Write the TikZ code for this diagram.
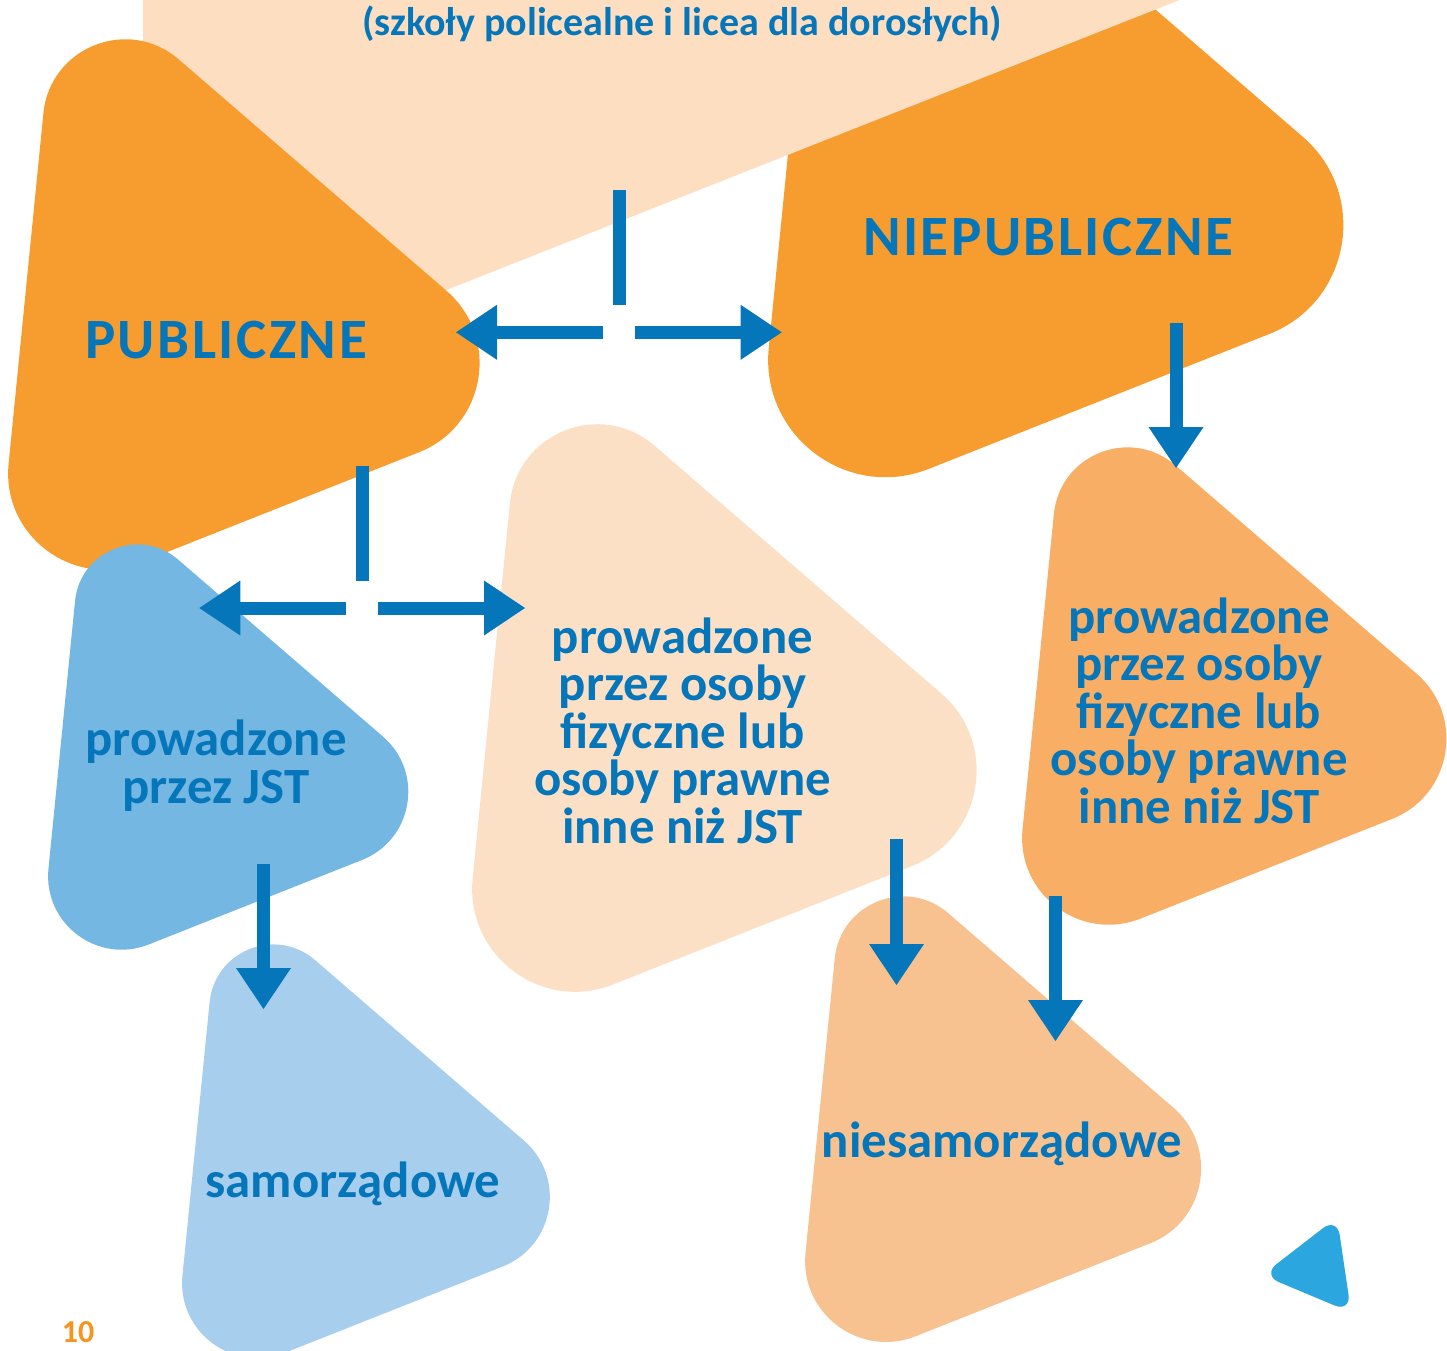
\documentclass[tikz,border=0pt]{standalone}
\usepackage{fontspec}
\setmainfont{Carlito}
\newfontfamily\hdfont[LetterSpace=4.4]{Carlito}
\usetikzlibrary{arrows.meta,calc}
\definecolor{orangeM}{HTML}{F79D2F}
\definecolor{peach}{HTML}{FDDEC0}
\definecolor{peachM}{HTML}{FCE0C5}
\definecolor{orangeL}{HTML}{F8AE64}
\definecolor{orangeP}{HTML}{F8C290}
\definecolor{blueM}{HTML}{74B7E3}
\definecolor{blueL}{HTML}{A8CEEE}
\definecolor{blueS}{HTML}{2BA6DE}
\definecolor{txtblue}{HTML}{0676BA}
\definecolor{pagenum}{HTML}{F7941E}
% rounded triangle with circular fillets: colour, left, top, scale
\newcommand\rtri[4]{%
  \begin{scope}[shift={(#2,#3)}, scale=#4]
  \fill[#1] (35.4,73.2) -- (0.6,423.8)
    .. controls (-6.5,495.5) and (64.8,549.4) .. (131.9,522.8)
    -- (411.1,412.2)
    .. controls (478.0,385.7) and (492.8,297.7) .. (438.4,250.7)
    -- (170.6,19.3)
    .. controls (120.3,-24.1) and (42.0,7.1) .. (35.4,73.2) -- cycle;
  \end{scope}}
\tikzset{
  txt/.style={text=txtblue, inner sep=0pt, align=center},
  hd/.style={txt, font=\hdfont\fontsize{57}{60}\selectfont\bfseries},
  body/.style={txt, font=\fontsize{50.8}{47.5}\selectfont\bfseries},
  topt/.style={txt, font=\fontsize{40}{42}\selectfont\bfseries},
  conn/.style={line width=13pt, draw=txtblue},
  arr/.style={conn, -{Triangle[length=41pt,width=55pt,line width=0pt]}}
}
\begin{document}
\begin{tikzpicture}[x=1pt,y=-1pt]
\useasboundingbox (0,0) rectangle (1447,1350);
\clip (0,0) rectangle (1447,1350);
% shapes
\rtri{orangeM}{768}{-169}{1.22}
\fill[peach] (143,-20) -- (1230,-20) -- (143,410) -- cycle;
\rtri{orangeM}{8}{40}{1}
\rtri{peachM}{472}{425}{1.07}
\rtri{orangeL}{1022}{448}{0.9}
\rtri{blueM}{48}{545}{0.764}
\rtri{blueL}{182}{945}{0.78}
\rtri{orangeP}{805}{897}{0.84}
\fill[blueS, rounded corners=18pt] (1299.6,1246.2) -- (1337.1,1217.2) -- (1351.1,1312.4) -- (1262.2,1275.1) -- cycle;
% texts
\node[topt, anchor=base] (top) at (682,35) {(szkoły policealne i licea dla dorosłych)};
\node[hd, anchor=base] (pub) at (226,358) {PUBLICZNE};
\node[hd, anchor=base] (npub) at (1048,255) {NIEPUBLICZNE};
\node[body, anchor=base] (osm) at (682.5,843) {prowadzone\\przez osoby\\fizyczne lub\\osoby prawne\\inne niż JST};
\node[body, anchor=base] (osr) at (1199,823) {prowadzone\\przez osoby\\fizyczne lub\\osoby prawne\\inne niż JST};
\node[body, anchor=base] (jst) at (216,803) {prowadzone\\przez JST};
\node[body, anchor=base] (sam) at (353,1197) {samorządowe};
\node[body, anchor=base] (nsam) at (1002,1157) {niesamorządowe};
\node[text=pagenum, font=\fontsize{32}{34}\selectfont\bfseries, inner sep=0pt, anchor=base] (pg) at (78,1342) {10};
% connector coordinates
\coordinate (v1a) at (619.5,190); \coordinate (v1b) at (619.5,305);
\coordinate (l1a) at (602.7,332.3); \coordinate (l1b) at (456,332.3);
\coordinate (r1a) at (635,332.3); \coordinate (r1b) at (781.7,332.3);
\coordinate (v2a) at (362.5,465.7); \coordinate (v2b) at (362.5,581);
\coordinate (l2a) at (346,608); \coordinate (l2b) at (199.3,608);
\coordinate (r2a) at (378,608); \coordinate (r2b) at (525,608);
\coordinate (d1a) at (1176,323); \coordinate (d1b) at (1176,468);
\coordinate (d2a) at (896.5,839); \coordinate (d2b) at (896.5,985);
\coordinate (d3a) at (1055.5,895.7); \coordinate (d3b) at (1055.5,1041);
\coordinate (d4a) at (263.5,864); \coordinate (d4b) at (263.5,1009);
% connectors
\draw[conn] (v1a) -- (v1b);
\draw[arr] (l1a) -- (l1b);
\draw[arr] (r1a) -- (r1b);
\draw[conn] (v2a) -- (v2b);
\draw[arr] (l2a) -- (l2b);
\draw[arr] (r2a) -- (r2b);
\draw[arr] (d1a) -- (d1b);
\draw[arr] (d2a) -- (d2b);
\draw[arr] (d3a) -- (d3b);
\draw[arr] (d4a) -- (d4b);
\end{tikzpicture}
\end{document}
